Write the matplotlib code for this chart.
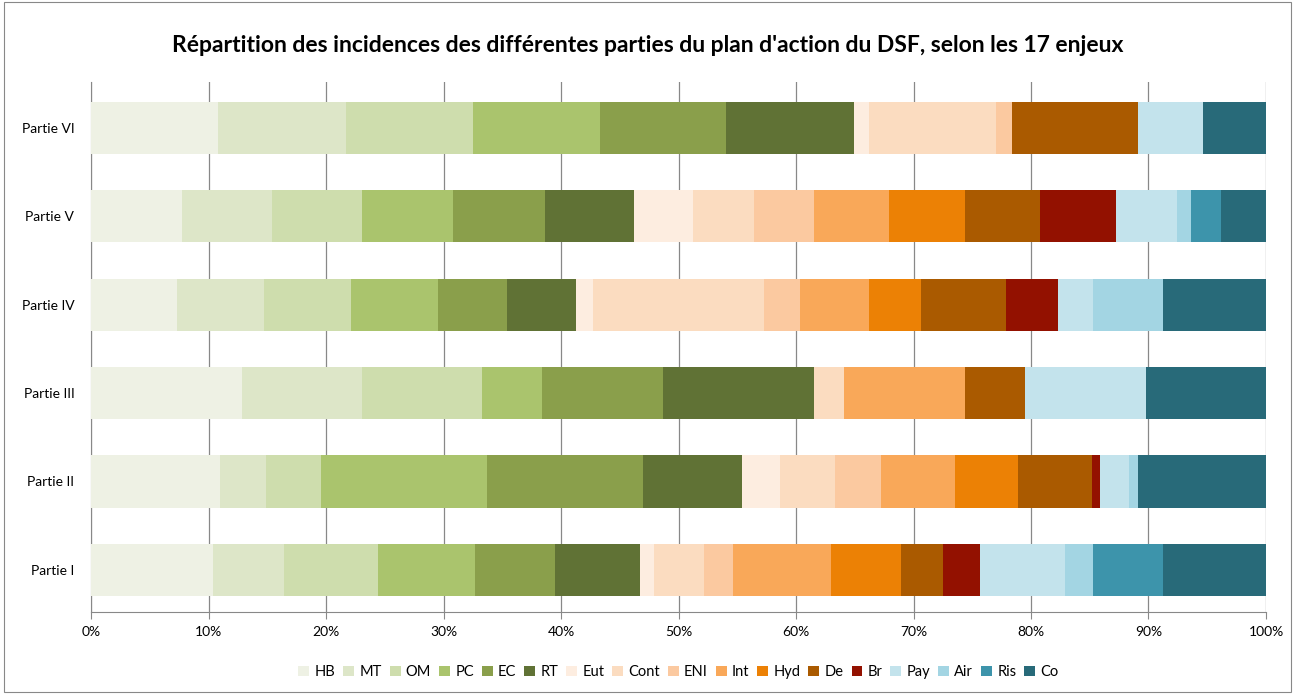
import numpy as np
import matplotlib.pyplot as plt
from matplotlib.patches import Rectangle

plt.rcParams['font.family'] = ['Lato', 'DejaVu Sans']

parties = ['Partie I', 'Partie II', 'Partie III', 'Partie IV', 'Partie V', 'Partie VI']
enjeux = ['HB', 'MT', 'OM', 'PC', 'EC', 'RT', 'Eut', 'Cont', 'ENI', 'Int',
          'Hyd', 'De', 'Br', 'Pay', 'Air', 'Ris', 'Co']
colors = ['#EEF1E4', '#DDE6C8', '#CEDDAD', '#AAC46D', '#8A9F4B', '#607235',
          '#FDEDE0', '#FBDCC0', '#FBC9A0', '#F9A859', '#EC8105', '#AA5A00',
          '#931100', '#C3E3EC', '#A3D5E3', '#3D94AB', '#286A79']

# share (%) of each enjeu per partie, order = enjeux
partie_1 = [10.4, 6.0, 8.0, 8.3, 6.8, 7.2, 1.2, 4.3, 2.4, 8.4, 5.9, 3.6, 3.2, 7.2, 2.4, 5.9, 8.8]
partie_2 = [11.0, 3.9, 4.7, 14.1, 13.3, 8.4, 3.2, 4.7, 3.9, 6.3, 5.4, 6.3, 0.7, 2.4, 0.8, 0.0, 10.9]
partie_3 = [12.85, 10.2, 10.25, 5.1, 10.3, 12.8, 0.0, 2.6, 0.0, 10.3, 0.0, 5.1, 0.0, 10.3, 0.0, 0.0, 10.2]
partie_4 = [7.3, 7.4, 7.4, 7.4, 5.9, 5.9, 1.4, 14.6, 3.0, 5.9, 4.4, 7.3, 4.4, 3.0, 5.9, 0.0, 8.8]
partie_5 = [7.7, 7.7, 7.7, 7.7, 7.8, 7.6, 5.05, 5.15, 5.1, 6.4, 6.5, 6.4, 6.4, 5.2, 1.2, 2.6, 3.8]
partie_6 = [10.8, 10.9, 10.8, 10.8, 10.7, 10.9, 1.3, 10.8, 1.4, 0.0, 0.0, 10.7, 0.0, 5.5, 0.0, 0.0, 5.4]

data = np.array([partie_1, partie_2, partie_3, partie_4, partie_5, partie_6])
data = data / data.sum(axis=1, keepdims=True) * 100

fig = plt.figure(figsize=(12.95, 6.94), dpi=100)
ax = fig.add_axes([0.0703, 0.118, 0.9073, 0.764])

y = np.arange(len(parties))
left = np.zeros(len(parties))
for i, name in enumerate(enjeux):
    ax.barh(y, data[:, i], left=left, height=0.59, color=colors[i], label=name,
            zorder=3)
    left += data[:, i]

ax.set_xlim(0, 100)
ax.set_ylim(-0.478, 5.522)
ax.set_xticks(np.arange(0, 101, 10))
ax.set_xticklabels([f'{v}%' for v in range(0, 101, 10)], fontsize=10)
ax.set_yticks(y)
ax.set_yticklabels(parties, fontsize=10)
ax.tick_params(axis='y', length=0, pad=12)
ax.tick_params(axis='x', length=5, color='#888888', direction='out', pad=5)
ax.grid(axis='x', color='#888888', linewidth=0.9, zorder=0)
for s in ['top', 'right']:
    ax.spines[s].set_visible(False)
ax.spines['left'].set_color('#888888')
ax.spines['bottom'].set_color('#888888')

fig.text(0.5, 0.934, "Répartition des incidences des différentes parties du plan d'action du DSF, selon les 17 enjeux",
         ha='center', va='center', fontsize=16.5, fontweight='bold')

ax.legend(loc='center', bbox_to_anchor=(0.5, -0.113), ncol=17, frameon=False,
          fontsize=10.5, handlelength=0.75, handleheight=0.75, handletextpad=0.35,
          columnspacing=0.55)

fig.patches.append(Rectangle((0.003, 0.003), 0.994, 0.994, transform=fig.transFigure,
                             fill=False, edgecolor='#888888', linewidth=0.8))

fig.savefig('out.png', dpi=100)
